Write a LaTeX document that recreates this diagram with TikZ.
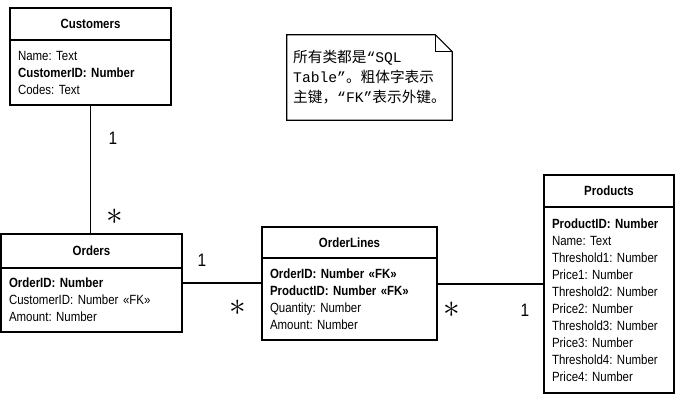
\documentclass[tikz,border=0pt]{standalone}
\usepackage{fontspec}
\setmainfont{Liberation Sans}[FakeStretch=0.86]
\setmonofont{Liberation Mono}
\newfontfamily\cjk{Noto Sans CJK SC}
\usetikzlibrary{positioning,calc}
\frenchspacing

\begin{document}
\begin{tikzpicture}[x=0.75pt, y=-0.75pt,
    classhead/.style={draw, line width=0.8pt, outer sep=0pt, inner sep=0pt,
        font=\fontsize{10}{12}\selectfont\bfseries, anchor=north west},
    classbody/.style={draw, line width=0.8pt, outer sep=0pt, inner xsep=6pt, inner ysep=0pt,
        align=left, font=\fontsize{10}{12.75}\selectfont},
    link/.style={line width=0.8pt},
    mult/.style={font=\fontsize{13.5}{14}\selectfont},
    many/.style={font=\fontsize{23}{23}\selectfont}]

    \useasboundingbox (0,0) rectangle (691,406);

    % --- Tabellen ---
    \node[classhead, minimum width=120.75pt, minimum height=24pt] (customers) at (10,8) {Customers};
    \node[classbody, text width=108.75pt, minimum height=48.75pt, below=0pt of customers] (customers-body)
        {Name: Text\\ \textbf{CustomerID: Number}\\ Codes: Text};

    \node[classhead, minimum width=135.75pt, minimum height=25.5pt] (orders) at (1,234) {Orders};
    \node[classbody, text width=123.75pt, minimum height=48pt, below=0pt of orders] (orders-body)
        {\textbf{OrderID: Number}\\ CustomerID: Number «FK»\\ Amount: Number};

    \node[classhead, minimum width=131.25pt, minimum height=23.25pt] (orderlines) at (262,227) {OrderLines};
    \node[classbody, text width=119.25pt, minimum height=61.5pt, below=0pt of orderlines] (orderlines-body)
        {\textbf{OrderID: Number «FK»}\\ \textbf{ProductID: Number «FK»}\\ Quantity: Number\\ Amount: Number};

    \node[classhead, minimum width=97.5pt, minimum height=24pt] (products) at (544,175) {Products};
    \node[classbody, text width=85.5pt, minimum height=139.5pt, below=0pt of products] (products-body)
        {\textbf{ProductID: Number}\\ Name: Text\\ Threshold1: Number\\ Price1: Number\\
         Threshold2: Number\\ Price2: Number\\ Threshold3: Number\\ Price3: Number\\
         Threshold4: Number\\ Price4: Number};

    % --- Beziehungen ---
    \draw[link] (customers-body.south) -- (customers-body.south |- orders.north);
    \draw[link] ($(orders-body.north east)+(0,15)$) -- ($(orderlines-body.north west)+(0,25)$);
    \draw[link] ($(orderlines-body.north east)+(0,26)$) -- ($(products-body.north west)+(0,77)$);

    \node[mult] (m1) at (113,138) {1};
    \node[many] (m2) at (115,217) {$\ast$};
    \node[mult] (m3) at (202,260) {1};
    \node[many] (m4) at (238,308) {$\ast$};
    \node[many] (m5) at (452,310) {$\ast$};
    \node[mult] (m6) at (525,310) {1};

    % --- Notiz ---
    \node[align=left, minimum width=123.75pt, minimum height=63.75pt, font=\fontsize{11}{15}\selectfont] (note)
        at (369.5,77.5)
        {{\cjk 所有类都是}{\ttfamily “SQL}\\
         {\ttfamily Table”}{\cjk 。粗体字表示}\\
         {\cjk 主键，}{\ttfamily “FK”}{\cjk 表示外键。}};
    \draw[link] (note.north west) -- ($(note.north east)+(-17,0)$) -- ($(note.north east)+(0,17)$)
        -- (note.south east) -- (note.south west) -- cycle;
    \draw[link] ($(note.north east)+(-17,0)$) |- ($(note.north east)+(0,17)$);

\end{tikzpicture}
\end{document}
